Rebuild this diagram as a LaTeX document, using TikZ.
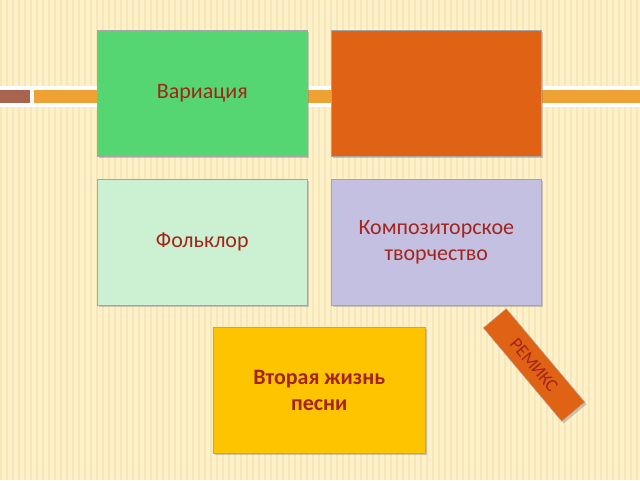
\documentclass[tikz,border=0pt]{standalone}
\usetikzlibrary{shadows}
\usepackage{fontspec}
\setmainfont{Carlito}
\definecolor{bg}{HTML}{FDF1CC}
\definecolor{stripe}{HTML}{F8E6B4}
\definecolor{txt}{HTML}{A3241A}
\definecolor{gbox}{HTML}{55D673}
\definecolor{obox}{HTML}{DF6215}
\definecolor{lgbox}{HTML}{CCF0D2}
\definecolor{lvbox}{HTML}{C4C0E2}
\definecolor{ybox}{HTML}{FEC400}
\definecolor{bar}{HTML}{EEA233}
\definecolor{brown}{HTML}{A8644E}
\begin{document}
\begin{tikzpicture}[x=1pt,y=-1pt,
  card/.style={draw=gray!70,line width=0.6pt,minimum width=210pt,minimum height=126pt,
    inner sep=0pt,anchor=north west,text=txt,font=\fontsize{22}{26}\selectfont,align=center,
    drop shadow={shadow xshift=2pt,shadow yshift=-2pt,opacity=0.4}}]
\useasboundingbox (0,0) rectangle (640,480);
\fill[bg] (0,0) rectangle (640,480);
\foreach \i in {0,6,...,636} \fill[stripe] (\i,0) rectangle (\i+2,480);
\fill[white] (0,86) rectangle (640,107);
\fill[brown] (0,90) rectangle (30,103);
\fill[bar] (34,90) rectangle (640,103);
\node[card,fill=gbox] (a) at (97,30) {Вариация};
\node[card,fill=obox] (b) at (331,30) {};
\node[card,fill=lgbox] (c) at (97,179) {Фольклор};
\node[card,fill=lvbox] (d) at (331,179) {Композиторское\\творчество};
\node[card,fill=ybox,minimum width=212pt,font=\bfseries\fontsize{22}{26}\selectfont] (e) at (213,327) {Вторая жизнь\\песни};
\node[fill=obox,draw=gray!60,text=txt,rotate=-50,minimum width=122pt,minimum height=30pt,
  font=\fontsize{18}{20}\selectfont,inner sep=0pt,
  drop shadow={shadow xshift=2pt,shadow yshift=-2pt,opacity=0.4}] (r) at (534,365) {РЕМИКС};
\end{tikzpicture}
\end{document}
